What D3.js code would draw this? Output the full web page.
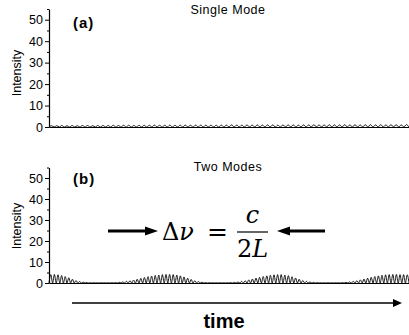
<!DOCTYPE html>
<html>
<head>
<meta charset="utf-8">
<script src="https://cdn.jsdelivr.net/npm/d3@7"></script>
<style>
body{margin:0;background:#fff}
svg{display:block}
</style>
</head>
<body>
<svg width="409" height="335"></svg>
<script>
// y ticks shared by both panels
const yTicks = [0, 10, 20, 30, 40, 50];
const yMinor = [5, 15, 25, 35, 45, 55];

// (a) single mode: peak height of each ripple
const peaksA = [
  0.6, 0.6, 0.7, 0.6, 0.7, 0.6, 0.7, 0.7, 0.6, 0.7,
  0.7, 0.7, 0.8, 0.7, 0.8, 0.8, 0.7, 0.8, 0.8, 0.8,
  0.9, 0.8, 0.8, 0.9, 0.8, 0.9, 0.9, 0.8, 0.9, 0.9,
  0.9, 0.9, 0.8, 0.9, 0.9, 1.0, 0.9, 0.9, 1.0, 0.9,
  1.0, 0.9, 1.0, 1.0, 0.9, 1.0, 1.0, 1.0, 0.9, 1.0,
  1.0, 1.1, 1.0, 1.0, 1.1, 1.0, 1.0, 1.1, 1.0, 1.1,
  1.0, 1.1, 1.1, 1.0, 1.1, 1.0, 1.1, 1.1, 1.0, 1.1
];

// (b) two modes: peak height of each ripple (beating)
const peaksB = [
  4.0, 4.1, 3.9, 3.6, 3.1, 2.5, 1.8, 1.2, 0.7, 0.4,
  0.2, 0.1, 0.1, 0.1, 0.1, 0.1, 0.1, 0.1, 0.2, 0.3,
  0.5, 0.8, 1.1, 1.4, 1.8, 2.2, 2.6, 3.0, 3.3, 3.6,
  3.8, 4.0, 4.1, 4.1, 4.0, 3.8, 3.4, 2.9, 2.3, 1.7,
  1.1, 0.7, 0.4, 0.2, 0.1, 0.1, 0.1, 0.1, 0.1, 0.1,
  0.2, 0.3, 0.5, 0.8, 1.1, 1.5, 1.9, 2.3, 2.7, 3.1,
  3.4, 3.7, 3.9, 4.0, 4.0, 3.8, 3.5, 3.0, 2.4, 1.8,
  1.2, 0.8, 0.5, 0.3, 0.2, 0.1, 0.1, 0.1, 0.1, 0.1,
  0.1, 0.2, 0.3, 0.5, 0.8, 1.1, 1.5, 1.9, 2.3, 2.7,
  3.1, 3.4, 3.7, 3.9, 4.0, 4.1, 4.1, 4.0, 4.0, 3.9
];

const svg = d3.select("svg");
const sans = "'Liberation Sans', Arial, Helvetica, sans-serif";
const serif = "'DejaVu Serif', serif";

function ripplePoints(peaks) {
  const pts = [];
  peaks.forEach((p, i) => {
    pts.push([i, 0]);
    pts.push([i + 0.5, p]);
  });
  pts.push([peaks.length, 0]);
  return pts;
}

function drawPanel(peaks, yRange, tag, title, tagY, titleY, labelY) {
  const x = d3.scaleLinear().domain([0, peaks.length]).range([49, 409]);
  const y = d3.scaleLinear().domain([0, 55]).range(yRange);
  const g = svg.append("g");

  // trace
  g.append("path")
    .datum(ripplePoints(peaks))
    .attr("fill", "none")
    .attr("stroke", "#000")
    .attr("stroke-width", 0.9)
    .attr("d", d3.line().x(d => x(d[0])).y(d => y(d[1])).curve(d3.curveMonotoneX));

  // x axis line
  g.append("g")
    .attr("transform", `translate(0,${y(0)})`)
    .call(d3.axisBottom(x).tickValues([]).tickSizeOuter(0))
    .select(".domain").attr("stroke-width", 1.2);

  // y axis
  const ya = g.append("g")
    .attr("transform", "translate(49,0)")
    .call(d3.axisLeft(y).tickValues(yTicks).tickSize(4).tickPadding(2).tickSizeOuter(0));
  ya.selectAll("text").attr("font-family", sans).attr("font-size", 12.5).attr("fill", "#000");
  ya.select(".domain").attr("stroke-width", 1.2);

  g.append("g")
    .attr("transform", "translate(49,0)")
    .call(d3.axisLeft(y).tickValues(yMinor).tickSize(2).tickFormat("").tickSizeOuter(0))
    .select(".domain").remove();

  // axis label
  g.append("text")
    .attr("transform", `translate(21,${labelY}) rotate(-90)`)
    .attr("text-anchor", "middle")
    .attr("font-family", sans)
    .attr("font-size", 12.5)
    .text("Intensity");

  g.append("text")
    .attr("x", 73).attr("y", tagY)
    .attr("font-family", sans).attr("font-weight", "bold")
    .attr("font-size", 15).attr("letter-spacing", 1)
    .text(tag);

  g.append("text")
    .attr("x", 228).attr("y", titleY)
    .attr("text-anchor", "middle")
    .attr("font-family", sans).attr("font-size", 12.5)
    .attr("letter-spacing", 0.5)
    .text(title);
}

drawPanel(peaksA, [127, 9], "(a)", "Single Mode", 28, 14, 73);
drawPanel(peaksB, [283, 167.5], "(b)", "Two Modes", 184, 171, 226);

// arrows
function arrow(x1, x2, yv, w, head, half) {
  const dir = Math.sign(x2 - x1);
  svg.append("line")
    .attr("x1", x1).attr("x2", x2 - dir * head * 0.8)
    .attr("y1", yv).attr("y2", yv)
    .attr("stroke", "#000").attr("stroke-width", w);
  svg.append("path")
    .attr("d", `M${x2},${yv} L${x2 - dir * head},${yv - half} L${x2 - dir * head},${yv + half} Z`)
    .attr("fill", "#000");
}

arrow(108, 158, 231, 3, 13, 4.5);
arrow(325, 277, 231, 3, 13, 4.5);
arrow(72, 402, 303, 1.5, 9, 4);

// formula: Δν = c / 2L
const eq = svg.append("text")
  .attr("x", 162).attr("y", 240)
  .attr("font-family", serif).attr("font-size", 24);
eq.append("tspan").text("Δ");
eq.append("tspan").attr("font-style", "italic").text("ν");

svg.append("text")
  .attr("x", 217.5).attr("y", 240)
  .attr("text-anchor", "middle")
  .attr("font-family", serif).attr("font-size", 25)
  .text("=");

svg.append("text")
  .attr("x", 252.5).attr("y", 223)
  .attr("text-anchor", "middle")
  .attr("font-family", serif).attr("font-style", "italic").attr("font-size", 24)
  .text("c");

svg.append("line")
  .attr("x1", 237).attr("x2", 268)
  .attr("y1", 232).attr("y2", 232)
  .attr("stroke", "#000").attr("stroke-width", 1.2);

const den = svg.append("text")
  .attr("x", 252.5).attr("y", 257)
  .attr("text-anchor", "middle")
  .attr("font-family", serif).attr("font-size", 24);
den.append("tspan").text("2");
den.append("tspan").attr("font-style", "italic").text("L");

svg.append("text")
  .attr("x", 224).attr("y", 328)
  .attr("text-anchor", "middle")
  .attr("font-family", sans).attr("font-weight", "bold").attr("font-size", 20)
  .text("time");
</script>
</body>
</html>
